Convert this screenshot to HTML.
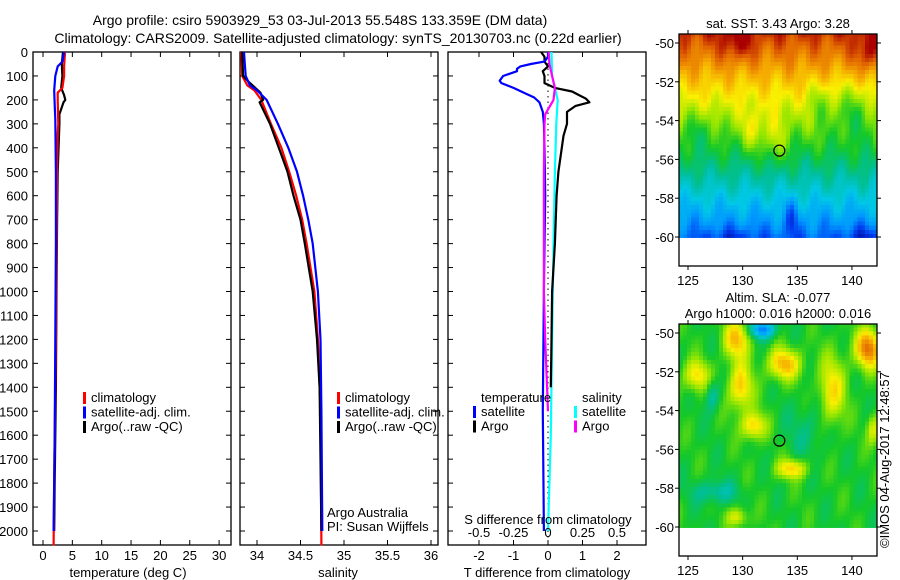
<!DOCTYPE html>
<html><head><meta charset="utf-8"><style>
body{margin:0;background:#fff;}
svg{display:block;font-family:"Liberation Sans",sans-serif;}
text{font-size:13px;fill:#000;}
</style></head><body>
<svg id="fig" width="900" height="580" viewBox="0 0 900 580">
<text x="320" y="25" text-anchor="middle" style="font-size:14px">Argo profile: csiro 5903929_53 03-Jul-2013 55.548S 133.359E (DM data)</text>
<text x="338" y="43" text-anchor="middle" style="font-size:14px">Climatology: CARS2009. Satellite-adjusted climatology: synTS_20130703.nc (0.22d earlier)</text>
<g id="g1"></g>
<g id="g2"></g>
<g id="g3"></g>
<g id="m1"></g>
<g id="m2"></g>
<text transform="translate(889,548) rotate(-90)" style="font-size:13px">©IMOS 04-Aug-2017 12:48:57</text>
</svg>
<script>
// Temperature profiles (depth m, deg C)
const tClimD=[0,60,100,150,170,200,300,340,500,800,1200,1600,2060];
const tClimV=[3.75,3.6,3.6,3.3,2.5,2.5,2.6,2.5,2.4,2.3,2.2,2.0,1.8];
const tSatD=[0,40,60,80,100,160,220,280,500,800,1200,1600,2000];
const tSatV=[3.6,3.3,2.5,2.3,2.1,1.9,2.0,2.1,2.2,2.2,2.1,2.0,1.8];
const tArgD=[0,50,100,150,180,200,210,260,300,500,700,1000,1400,1800,2000];
const tArgV=[3.4,3.2,3.3,3.1,3.6,3.8,3.5,2.8,2.8,2.5,2.4,2.3,2.2,2.0,1.9];
// Salinity profiles
const sClimD=[0,100,140,160,200,300,400,500,600,700,800,1000,1200,1500,2060];
const sClimV=[33.82,33.83,33.89,33.97,34.05,34.16,34.28,34.37,34.45,34.52,34.57,34.66,34.70,34.73,34.74];
const sArgD=[0,100,130,170,200,210,300,400,500,600,700,800,1000,1200,1400,2000];
const sArgV=[33.83,33.84,33.92,34.04,34.07,34.03,34.15,34.25,34.35,34.42,34.50,34.55,34.64,34.69,34.72,34.74];
const sSatD=[0,50,100,140,160,200,300,400,500,600,700,800,1000,1200,1500,2000];
const sSatV=[33.85,33.86,33.87,33.92,34.0,34.11,34.24,34.36,34.46,34.53,34.59,34.64,34.70,34.73,34.74,34.75];
// Differences from climatology
const dTSatD=[0,20,40,50,60,70,80,100,120,130,150,170,190,210,250,300,400,600,800,1000,1500,2000];
const dTSatV=[0,0,-0.1,-0.5,-0.8,-0.9,-0.9,-1.3,-1.4,-1.35,-1.0,-0.7,-0.4,-0.25,-0.15,-0.12,-0.1,-0.08,-0.1,-0.12,-0.15,-0.12];
const dTArgD=[0,20,40,60,80,100,130,150,165,180,195,210,225,250,300,350,400,500,600,800,1000,1200,1400];
const dTArgV=[-0.2,-0.1,-0.1,0,-0.15,-0.1,-0.1,0.2,0.7,0.9,1.1,1.2,0.8,0.55,0.55,0.45,0.4,0.3,0.25,0.2,0.12,0.1,0.08];
const dSSatD=[0,100,150,200,300,500,800,1200,1600,2000];
const dSSatV=[0.025,0.03,0.05,0.07,0.06,0.05,0.04,0.03,0.02,0.0];
const dSArgD=[0,50,100,150,200,230,260,300,500,800,1000,1200,1500];
const dSArgV=[0.005,0.01,0.03,0.05,0.04,0.01,-0.02,-0.025,-0.03,-0.03,-0.03,-0.02,0.0];
const depthTicks=[0,100,200,300,400,500,600,700,800,900,1000,1100,1200,1300,1400,1500,1600,1700,1800,1900,2000];
const tTicks=[0,5,10,15,20,25,30];
const sTicks=[34,34.5,35,35.5,36];
const dTTicks=[-2,-1,0,1,2];
const dSTicks=[-0.5,-0.25,0,0.25,0.5];
const dSTickLabels=["-0.5","-0.25","0","0.25","0.5"];
const lonTicks=[125,130,135,140];
const latTicks=[-50,-52,-54,-56,-58,-60];
const argoLon=133.359, argoLat=-55.548;

const NS="http://www.w3.org/2000/svg";
function el(p,tag,a,txt){const e=document.createElementNS(NS,tag);for(const k in a)e.setAttribute(k,a[k]);if(txt!==undefined)e.textContent=txt;p.appendChild(e);return e;}
const yD=d=>52+d*0.2395;
const xT=t=>43+t*5.87;
const xS=s=>257+(s-34)*87;
const xDT=v=>548+v*34.5;
const xDS=v=>548+v*138;
const Y0=52,Y1=545;

function panel(g,x0,x1,name){
  const r=el(g,'rect',{x:x0,y:Y0,width:x1-x0,height:Y1-Y0,fill:'none',stroke:'#000','stroke-width':1.3});
  
  depthTicks.forEach(d=>{el(g,'line',{x1:x0,x2:x0+5,y1:yD(d),y2:yD(d),stroke:'#000'});el(g,'line',{x1:x1,x2:x1-5,y1:yD(d),y2:yD(d),stroke:'#000'});});
}
function xticks(g,vals,fx,labels,yl,name){
  vals.forEach((v,i)=>{const x=fx(v);el(g,'line',{x1:x,x2:x,y1:Y1,y2:Y1-5,stroke:'#000'});el(g,'line',{x1:x,x2:x,y1:Y0,y2:Y0+5,stroke:'#000'});
    const t=el(g,'text',{x:x,y:yl,'text-anchor':'middle'},labels?labels[i]:String(v));
    });
}
function line(g,D,V,fx,col,name,w){
  const pts=D.map((d,i)=>fx(V[i]).toFixed(1)+','+yD(d).toFixed(1)).join(' ');
  const p=el(g,'polyline',{points:pts,fill:'none',stroke:col,'stroke-width':w||2.2,'stroke-linejoin':'round'});
  
}
function legend(g,x,y,items){
  items.forEach((it,i)=>{const yy=y+i*14.5;
    const m=el(g,'rect',{x:x,y:yy-10,width:3,height:12,fill:it[0]});
    const t=el(g,'text',{x:x+8,y:yy},it[1]);});
}
const g1=document.getElementById('g1'),g2=document.getElementById('g2'),g3=document.getElementById('g3');
panel(g1,33,231,'temperature');
depthTicks.forEach(d=>{const t=el(g1,'text',{x:28,y:yD(d)+5,'text-anchor':'end'},String(d));});
xticks(g1,tTicks,xT,null,560,'temperature');
el(g1,'text',{x:128,y:577,'text-anchor':'middle',},'temperature (deg C)');
line(g1,tArgD,tArgV,xT,'#000','temp-argo-line');
line(g1,tClimD,tClimV,xT,'#f00','temp-climatology-line');
line(g1,tSatD,tSatV,xT,'#00f','temp-satellite-line');
legend(g1,83,402,[['#f00','climatology'],['#00f','satellite-adj. clim.'],['#000','Argo(..raw -QC)']]);

panel(g2,240,438,'salinity');
xticks(g2,sTicks,xS,null,560,'salinity');
el(g2,'text',{x:338,y:577,'text-anchor':'middle',},'salinity');
line(g2,sClimD,sClimV,xS,'#f00','sal-climatology-line');
line(g2,sArgD,sArgV,xS,'#000','sal-argo-line');
line(g2,sSatD,sSatV,xS,'#00f','sal-satellite-line');
legend(g2,337,402,[['#f00','climatology'],['#00f','satellite-adj. clim.'],['#000','Argo(..raw -QC)']]);
el(g2,'text',{x:327,y:517,},'Argo Australia');
el(g2,'text',{x:327,y:531,},'PI: Susan Wijffels');

panel(g3,448,646,'difference');
xticks(g3,dTTicks,xDT,null,560,'t-diff');
el(g3,'text',{x:547,y:577,'text-anchor':'middle',},'T difference from climatology');
el(g3,'line',{x1:xDT(0),x2:xDT(0),y1:Y0,y2:Y1,stroke:'#000','stroke-dasharray':'1.5,4',});
line(g3,dSSatD,dSSatV,xDS,'#0ff','s-diff-satellite-line');
line(g3,dTArgD,dTArgV,xDT,'#000','t-diff-argo-line');
line(g3,dTSatD,dTSatV,xDT,'#00f','t-diff-satellite-line');
line(g3,dSArgD,dSArgV,xDS,'#f0f','s-diff-argo-line');
dSTicks.forEach((v,i)=>{const t=el(g3,'text',{x:xDS(v),y:537,'text-anchor':'middle'},dSTickLabels[i]);});
el(g3,'text',{x:548,y:524,'text-anchor':'middle',},'S difference from climatology');
el(g3,'text',{x:481,y:402,},'temperature');
el(g3,'text',{x:582,y:402,},'salinity');
legend(g3,473,416,[['#00f','satellite'],['#000','Argo']]);
legend(g3,574,416,[['#0ff','satellite'],['#f0f','Argo']]);

// maps
const pal=[[0,0,140],[0,60,240],[0,150,255],[0,200,230],[0,190,150],[20,200,40],[150,230,0],[250,240,0],[245,170,0],[225,100,0],[170,0,0]];
function col(v){v=Math.max(0,Math.min(1,v))*(pal.length-1);const i=Math.min(pal.length-2,Math.floor(v)),f=v-i;
  const c=pal[i].map((a,k)=>Math.round(a+(pal[i+1][k]-a)*f));return 'rgb('+c+')';}
function map(id,oy,field,title){
  const g=document.getElementById(id);
  const L=679,R=877,T=oy,B=oy+232;
  const xL=lon=>688+(lon-125)*10.93, yL=lat=>oy+9+(-50-lat)*19.4;
  const lonMin=124.2,lonMax=142.3,latTop=-49.5,latBot=-60.05;
  const n=50,m=50;const dw=(lonMax-lonMin)/n,dh=(latTop-latBot)/m;
  const cells=el(g,'g',{'shape-rendering':'crispEdges'});
  for(let i=0;i<n;i++)for(let j=0;j<m;j++){const lo=lonMin+(i+0.5)*dw,la=latTop-(j+0.5)*dh;
    el(cells,'rect',{x:(xL(lonMin+i*dw)).toFixed(1),y:(yL(latTop-j*dh)).toFixed(1),width:(dw*10.93+1.2).toFixed(2),height:(dh*19.4+1.2).toFixed(2),fill:col(field(lo,la))});}
  el(g,'rect',{x:L,y:yL(latBot),width:R-L,height:B-yL(latBot)+1,fill:'#fff'});
  el(g,'rect',{x:R,y:T-2,width:10,height:B-T+4,fill:'#fff'});
  el(g,'rect',{x:L,y:T,width:R-L,height:B-T,fill:'none',stroke:'#000','stroke-width':1.3,});
  lonTicks.forEach(l=>{const x=xL(l);el(g,'line',{x1:x,x2:x,y1:B,y2:B+4,stroke:'#000'});el(g,'line',{x1:x,x2:x,y1:T,y2:T-4,stroke:'#000'});
    const t=el(g,'text',{x:x,y:B+19,'text-anchor':'middle'},String(l));});
  latTicks.forEach(l=>{const y=yL(l);el(g,'line',{x1:L,x2:L-4,y1:y,y2:y,stroke:'#000'});el(g,'line',{x1:R,x2:R+4,y1:y,y2:y,stroke:'#000'});
    const t=el(g,'text',{x:674,y:y+5,'text-anchor':'end'},String(l));});
  el(g,'circle',{cx:xL(argoLon),cy:yL(argoLat),r:5.5,fill:'none',stroke:'#000','stroke-width':1.2,});
  title.forEach((s,k)=>el(g,'text',{x:778,y:oy-18+k*16-(title.length-1)*16+12,'text-anchor':'middle',},s));
}
const sstBlobs=[[129.5,-50,0.1,1.5,0.9],[141.5,-50.5,0.12,1.2,1],[131,-54.5,0.12,1,1],[133,-55,0.1,1,1.3],[137,-53,-0.08,1,1],[134.5,-59,-0.1,0.6,1],[141,-60,-0.08,1.5,0.6],[129,-60,-0.06,2,0.5],[140,-53.5,-0.12,2,1.4],[126,-54.5,-0.07,1.5,1]];
function blob(b,lo,la){return b[2]*Math.exp(-(((lo-b[0])/b[3])**2+((la-b[1])/b[4])**2));}
map('m1',34,(lo,la)=>{let v=0.15+0.8*((la+60)/10.5)+0.03*Math.sin(lo*2.1+la*1.3)+0.02*Math.sin(lo*3.7-la*2.1);
  sstBlobs.forEach(b=>v+=blob(b,lo,la));return v;},['sat. SST: 3.43 Argo: 3.28']);
const slaBlobs=[[129.5,-50.3,0.27,1.2,1.0],[131.8,-49.8,-0.35,1.1,0.5],[125.8,-52.2,0.22,1.2,0.8],[129.8,-52.8,0.25,1.1,1.2],[131,-54.8,0.25,1.1,0.7],[133.8,-51.6,0.28,1.5,0.8],[134.5,-57,0.24,1.4,0.5],[138.2,-53,0.22,1.2,1.8],[141.5,-50.8,0.38,1.2,1],[127.5,-58.2,-0.13,2,0.6],[127.2,-53.2,-0.14,0.6,0.8],[129.5,-59.5,0.18,0.9,0.5],[136,-55,-0.07,2,1.5],[142,-55,0.18,0.6,0.8]];
map('m2',324,(lo,la)=>{let v=0.5+0.025*Math.sin(lo*1.6+la*1.2)+0.02*Math.sin(lo*2.6-la*2.0);slaBlobs.forEach(b=>v+=blob(b,lo,la));return v;},['Altim. SLA: -0.077','Argo h1000: 0.016 h2000: 0.016']);
</script>
</body></html>
